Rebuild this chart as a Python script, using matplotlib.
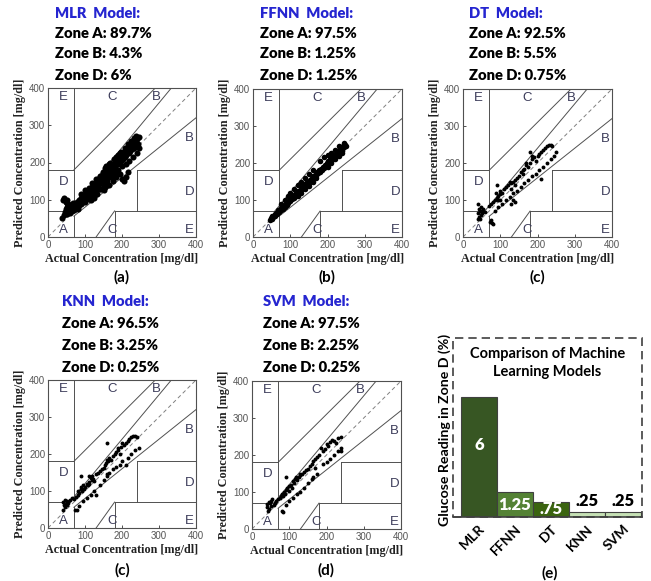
import numpy as np
import matplotlib
matplotlib.use("Agg")
import matplotlib.pyplot as plt
from matplotlib.patches import Rectangle

W, H = 651, 581

# ---- data ----
mlr_pts = [(38,52),(42,60),(45,68),(48,75),(50,62),(52,80),(55,72),(58,78),(40,100),(45,98),
           (48,95),(52,92),(55,88),(60,85),(62,75),(65,80),(68,90),(70,72),(72,85),(75,88),
           (78,95),(80,80),(82,90),(85,100),(88,92),(90,105),(92,98),(95,110),(98,100),(100,115),
           (102,108),(105,120),(108,112),(110,125),(112,118),(115,130),(118,122),(120,135),(122,128),
           (125,140),(128,132),(130,145),(132,138),(135,150),(138,142),(140,155),(142,148),(145,160),
           (148,152),(150,168),(152,158),(155,172),(158,162),(160,178),(162,168),(165,182),(168,172),
           (170,188),(172,178),(175,192),(178,182),(180,198),(182,188),(185,205),(188,195),(190,210),
           (192,200),(195,215),(198,205),(200,222),(202,210),(205,228),(208,215),(210,232),(212,220),
           (215,238),(218,225),(220,242),(222,230),(225,245),(228,235),(230,250),(232,240),(235,255),
           (238,245),(240,262),(242,250),(245,268),(245,240),(240,225),(230,215),(220,205),(210,195),
           (200,190),(190,180),(180,170),(170,160),(160,150),(150,140),(140,130),(130,122),(120,112),
           (110,102),(100,95),(90,88),(80,75),(205,150),(200,155),(210,160),(215,175),(195,170),
           (185,160),(175,150),(165,140),(155,135),(150,125),(142,128),(132,115),(125,105),(115,100),
           (148,175),(158,190),(168,200),(178,210),(188,220),(198,228),(208,238),(218,245),(228,255),
           (238,270),(175,170),(165,160),(135,135),(125,125),(105,105),(95,95),(85,85),(75,78),
           (65,70),(60,65),(155,185),(165,195),(185,215),(195,225),(215,250),(225,258),(232,265),
           (140,165),(130,155),(120,145),(110,132),(100,125),(90,115),(44,104),(50,100)]

ffnn_pts = [(45,45),(48,52),(50,58),(52,50),(55,55),(58,62),(60,58),(62,65),(65,62),(68,72),
            (70,68),(72,75),(75,72),(78,80),(80,76),(82,85),(85,82),(88,90),(90,86),(92,95),
            (95,92),(98,100),(100,96),(102,105),(105,102),(108,110),(110,106),(112,115),(115,112),
            (118,120),(120,116),(122,125),(125,122),(128,130),(130,126),(132,135),(135,132),(138,140),
            (140,136),(142,145),(145,142),(148,150),(150,146),(152,155),(155,152),(158,160),(160,156),
            (162,165),(165,162),(168,170),(170,166),(172,175),(175,172),(178,180),(180,176),(182,185),
            (185,182),(188,190),(190,186),(192,195),(195,192),(198,200),(200,196),(202,205),(205,202),
            (208,210),(210,206),(212,215),(215,212),(218,220),(220,216),(222,225),(225,222),(228,230),
            (230,226),(232,235),(235,232),(238,240),(240,236),(242,245),(245,242),(248,250),(250,245),
            (245,255),(238,232),(180,205),(100,120),(95,110),(85,100),(75,88),(160,180),(200,190),
            (210,200),(220,210),(230,220),(240,228),(150,170),(140,160),(130,150),(120,140),(110,130),
            (190,215),(200,222),(210,228),(220,235),(230,245),(170,160),(160,150),(150,138),(140,130),
            (130,120),(120,110)]

dt_pts = [(40,90),(42,75),(45,70),(40,65),(48,60),(42,55),(50,65),(52,70),(45,50),(55,75),
          (48,80),(58,68),(40,48),(75,45),(78,38),(72,40),(80,35),(70,85),(75,90),(80,95),
          (85,100),(90,105),(95,110),(88,120),(92,140),(100,115),(100,125),(105,120),(110,130),
          (95,100),(100,100),(115,135),(120,140),(125,150),(130,145),(135,150),(140,155),(145,160),
          (150,165),(140,140),(155,175),(160,180),(165,185),(170,195),(175,190),(180,200),(185,210),
          (190,215),(185,220),(195,205),(200,220),(205,225),(210,230),(215,235),(220,240),(225,245),
          (230,250),(235,248),(240,245),(180,230),(170,200),(160,170),(130,130),(85,70),(95,80),
          (105,90),(115,100),(125,108),(135,118),(145,125),(155,135),(165,145),(175,155),(185,165),
          (195,170),(205,180),(215,190),(225,200),(235,210),(245,220),(250,230),(210,158),(130,90),
          (140,95),(135,100)]

knn_pts = [(40,70),(42,62),(45,58),(40,48),(48,65),(50,72),(45,75),(52,62),(55,68),(60,75),
           (65,80),(70,78),(75,85),(80,90),(82,100),(85,95),(88,105),(90,110),(92,100),(95,115),
           (98,105),(100,112),(105,120),(108,115),(110,125),(112,118),(115,135),(118,130),(120,140),
           (122,132),(125,128),(130,145),(135,150),(140,155),(145,160),(150,162),(155,170),(158,175),
           (160,185),(162,180),(165,190),(170,185),(175,195),(180,200),(185,205),(188,210),(190,215),
           (195,200),(198,220),(200,230),(205,225),(210,230),(215,235),(220,240),(225,245),(230,250),
           (235,248),(240,245),(160,230),(90,140),(110,140),(72,48),(78,48),(85,60),(95,72),(105,80),
           (115,90),(125,100),(130,90),(140,115),(150,130),(160,145),(165,150),(175,160),(160,140),
           (200,180),(210,170),(215,190),(225,200),(235,210),(245,215),(195,170),(185,165)]

svm_pts = [(40,60),(42,50),(45,55),(40,68),(48,70),(50,62),(52,75),(55,80),(45,72),(58,65),
           (62,70),(65,75),(70,80),(75,85),(78,90),(80,95),(82,88),(85,100),(88,95),(90,140),
           (92,105),(95,110),(98,102),(100,115),(105,120),(108,112),(110,130),(112,125),(115,135),
           (118,140),(120,132),(125,140),(128,145),(130,150),(135,148),(140,155),(145,160),(150,162),
           (155,170),(160,175),(165,185),(170,190),(175,195),(180,200),(185,220),(190,210),(195,215),
           (200,230),(205,225),(210,235),(215,240),(220,238),(225,232),(230,245),(240,250),(240,210),
           (240,220),(80,50),(82,45),(90,65),(100,75),(110,85),(120,95),(130,100),(140,110),(150,125),
           (160,135),(165,140),(175,150),(170,165),(190,175),(200,180),(210,190),(220,200),(230,210)]

models = ["MLR", "FFNN", "DT", "KNN", "SVM"]
zone_a = ["89.7%", "97.5%", "92.5%", "96.5%", "97.5%"]
zone_b = ["4.3%", "1.25%", "5.5%", "3.25%", "2.25%"]
zone_d = ["6%", "1.25%", "0.75%", "0.25%", "0.25%"]
panel_tags = ["(a)", "(b)", "(c)", "(c)", "(d)"]

zone_d_vals = [6, 1.25, 0.75, 0.25, 0.25]
zone_d_text = ["6", "1.25", ".75", ".25", ".25"]
bar_colors = ["#375623", "#548235", "#3b6410", "#c5e0b4", "#c5e0b4"]

# clarke grid boundaries (standard)
grid_lines = [([0, 175/3], [70, 70]), ([175/3, 400/1.2], [70, 400]), ([70, 70], [84, 400]),
              ([0, 70], [180, 180]), ([70, 290], [180, 400]), ([70, 70], [0, 56]),
              ([70, 400], [56, 320]), ([180, 180], [0, 70]), ([180, 400], [70, 70]),
              ([240, 240], [70, 180]), ([240, 400], [180, 180]), ([130, 180], [0, 70])]
zone_labels = [(30, 20, "A"), (370, 265, "B"), (280, 377, "B"), (160, 377, "C"), (160, 20, "C"),
               (30, 148, "D"), (370, 122, "D"), (30, 377, "E"), (370, 20, "E")]

fig = plt.figure(figsize=(W/100, H/100), dpi=100)

def px_axes(l, t, r, b):
    return fig.add_axes([l/W, 1 - b/H, (r - l)/W, (b - t)/H])

def ftext(x, y, s, **kw):
    fig.text(x/W, 1 - y/H, s, **kw)

boxes = [(48, 88, 196, 237), (253, 89, 402, 237), (463, 89, 612, 237),
         (48, 380, 196, 528), (252, 381, 401, 529)]
all_pts = [mlr_pts, ffnn_pts, dt_pts, knn_pts, svm_pts]
msize = [4.4, 4.0, 2.8, 2.8, 2.8]
head_x = [55, 260, 469, 62, 263]
head_y = [[13, 33, 54, 75], [13, 33, 54, 75], [13, 33, 54, 75],
          [301, 324, 346, 367], [301, 324, 346, 367]]

hfont = dict(family="Lato", fontweight="heavy", fontsize=10.6)

for i, (l, t, r, b) in enumerate(boxes):
    ax = px_axes(l, t, r, b)
    for xs, ys in grid_lines:
        ax.plot(xs, ys, color="#505050", lw=0.7)
    ax.plot([0, 400], [0, 400], color="#808080", lw=0.7, ls=(0, (4, 3)))
    for zx, zy, lab in zone_labels:
        ax.text(zx, zy, lab, fontsize=9.5, color="#3c3c5a", ha="left", va="center",
                family="Liberation Sans")
    p = np.array(all_pts[i])
    ax.plot(p[:, 0], p[:, 1], "o", color="black", ms=msize[i], mew=0)
    ax.set_xlim(0, 400)
    ax.set_ylim(0, 400)
    ax.set_xticks([0, 100, 200, 300, 400])
    ax.set_yticks([0, 100, 200, 300, 400])
    ax.tick_params(direction="in", length=2, width=0.6, labelsize=7, labelcolor="#555555",
                   color="#333333", pad=2)
    for lab in ax.get_xticklabels() + ax.get_yticklabels():
        lab.set_family("Liberation Sans")
    for sp in ax.spines.values():
        sp.set_color("#505050")
        sp.set_linewidth(0.8)
    ax.set_xlabel("Actual Concentration [mg/dl]", family="Liberation Serif",
                  fontweight="bold", fontsize=8.7, labelpad=2, color="#222222")
    ax.set_ylabel("Predicted Concentration [mg/dl]", family="Liberation Serif",
                  fontweight="bold", fontsize=8.7, labelpad=2, color="#222222")

    hx = head_x[i]
    hy = head_y[i]
    ftext(hx, hy[0], models[i] + "  Model:", color="#2525d0", va="center", **hfont)
    ftext(hx, hy[1], "Zone A: " + zone_a[i], color="black", va="center", **hfont)
    ftext(hx, hy[2], "Zone B: " + zone_b[i], color="black", va="center", **hfont)
    ftext(hx, hy[3], "Zone D: " + zone_d[i], color="black", va="center", **hfont)
    cx = (l + r) / 2
    ty = 277 if i < 3 else 570
    ftext(cx, ty, panel_tags[i], ha="center", va="center", family="Lato",
          fontweight="bold", fontsize=11)

# ---- bar chart (e) ----
axb = px_axes(453, 338, 642, 517)
xpos = np.arange(len(models))
axb.bar(xpos, zone_d_vals, width=1.0, color=bar_colors, edgecolor="#404040", linewidth=0.8)
axb.set_xlim(-0.72, 4.53)
axb.set_ylim(0, 8.95)
axb.set_yticks([])
axb.set_xticks(xpos)
axb.set_xticklabels(models, rotation=45, ha="right", rotation_mode="anchor",
                    family="Lato", fontweight="bold", fontsize=10)
axb.tick_params(axis="x", length=0, pad=4)
for s in ["top", "right", "left"]:
    axb.spines[s].set_visible(False)
axb.spines["bottom"].set_color("#404040")
axb.spines["bottom"].set_linewidth(1.2)
axb.add_patch(Rectangle((0, 0), 1, 1, transform=axb.transAxes, fill=False,
                        ls=(0, (5, 3)), lw=1.2, edgecolor="#404040", clip_on=False))
for k, v in enumerate(zone_d_vals):
    if v > 2:
        axb.text(k, v * 0.6, zone_d_text[k], ha="center", va="center",
                 color="white", family="Lato", fontweight="heavy", fontsize=12)
    elif v > 0.5:
        axb.text(k, v / 2, zone_d_text[k], ha="center", va="center",
                 color="white", family="Lato", fontweight="heavy", fontsize=12)
    else:
        axb.text(k, v + 0.15, zone_d_text[k], ha="center", va="bottom",
                 color="black", family="Lato", fontweight="heavy", fontsize=12)
axb.text(0.5, 0.86, "Comparison of Machine\nLearning Models", transform=axb.transAxes,
         ha="center", va="center", family="Lato", fontweight="bold", fontsize=10.5,
         linespacing=1.3)
ftext(445, 430, "Glucose Reading in Zone D (%)", rotation=90, ha="center", va="center",
      family="Lato", fontweight="bold", fontsize=10.2)
ftext(550, 573, "(e)", ha="center", va="center", family="Lato", fontweight="bold", fontsize=11)

fig.savefig("out.png", dpi=100)
